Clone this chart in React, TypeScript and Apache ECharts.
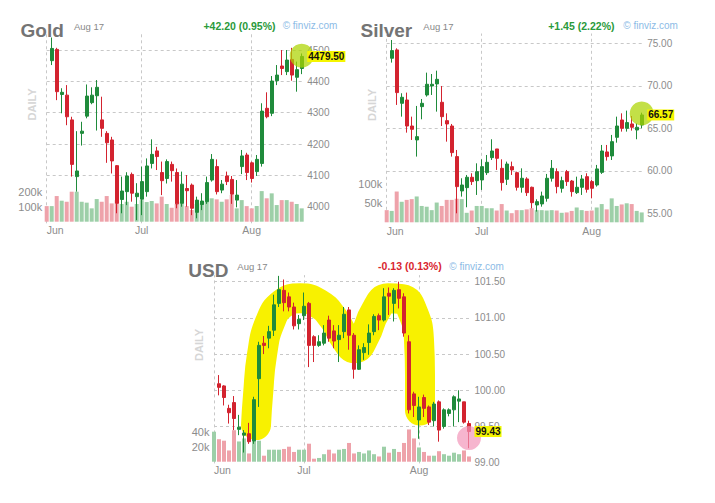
import React, { useEffect, useRef } from 'react';
import * as echarts from 'echarts';

// ---------- DATA ----------
// Candles: [open, close, low, high]; index 0 is a session whose candle is not drawn.
const NONE = ['-', '-', '-', '-'];

const GOLD_OHLC: any[] = [
  NONE,
  [4466, 4505, 4452, 4540], [4502, 4367, 4340, 4507], [4358, 4365, 4298, 4378], [4356, 4287, 4260, 4388],
  [4277, 4135, 4096, 4287], [4096, 4114, 4048, 4241], [4234, 4241, 4195, 4271], [4289, 4353, 4282, 4390],
  [4332, 4356, 4327, 4381], [4354, 4381, 4243, 4404], [4277, 4250, 4223, 4351], [4234, 4204, 4140, 4241],
  [4213, 4146, 4106, 4223], [4131, 4011, 3979, 4133], [4023, 4050, 3979, 4096], [4048, 4098, 4005, 4110],
  [4103, 4043, 4016, 4109], [4032, 4043, 3957, 4075], [4024, 4080, 3973, 4128], [4048, 4130, 4032, 4154],
  [4138, 4167, 4122, 4215], [4178, 4160, 4117, 4191], [4109, 4083, 4037, 4144], [4090, 4144, 4074, 4151],
  [4135, 4115, 4080, 4144], [4109, 4009, 3995, 4122], [4011, 4072, 4000, 4112], [4058, 4051, 4000, 4101],
  [4069, 3995, 3973, 4074], [3982, 4021, 3963, 4032], [4007, 4018, 3989, 4043], [4016, 4077, 4009, 4096],
  [4085, 4151, 4080, 4168], [4128, 4048, 4039, 4151], [4053, 4072, 4043, 4085], [4098, 4080, 4069, 4112],
  [4087, 4040, 4009, 4098], [4021, 4037, 3998, 4085], [4128, 4162, 4104, 4181], [4165, 4109, 4085, 4172],
  [4140, 4090, 4077, 4144], [4112, 4151, 4098, 4165], [4138, 4305, 4128, 4330], [4314, 4287, 4282, 4365],
  [4298, 4401, 4289, 4417], [4402, 4420, 4388, 4452], [4449, 4441, 4420, 4500], [4431, 4468, 4420, 4500],
  [4470, 4420, 4402, 4507], [4413, 4437.3, 4367, 4463], [4441, 4479.5, 4423, 4489],
];
const GOLD_VOLUME_K = [
  104, 104, 171, 140, 133, 200, 200, 133, 127, 89, 151, 133, 171, 122, 144, 118, 133, 100, 118, 144,
  131, 138, 122, 167, 118, 93, 118, 133, 104, 78, 118, 122, 133, 156, 149, 133, 149, 178, 89, 144,
  104, 89, 104, 204, 156, 189, 111, 144, 144, 133, 118, 89,
];
const GOLD_FIRST_VOL_UP = false;

const SILVER_OHLC: any[] = [
  NONE,
  [73.24, 74.14, 72.73, 75.39], [74.22, 69.2, 67.75, 74.41], [67.94, 68.65, 66.37, 69.12], [68.33, 65.27, 64.49, 69.2],
  [65.27, 64.88, 63.63, 66.37], [63.63, 64.02, 61.67, 67.63], [67.55, 67.94, 66.06, 68.45], [68.92, 70.18, 68.73, 71.55],
  [69.98, 70.18, 68.92, 71.39], [70.22, 70.76, 66.96, 71.78], [68.06, 66.37, 65.27, 69.98], [65.9, 65.51, 63.43, 66.76],
  [65.27, 62.14, 61.67, 65.51], [61.67, 58.14, 55.0, 62.45], [57.63, 58.33, 56.96, 59.12], [58.02, 59.24, 55.71, 59.51],
  [59.24, 58.73, 58.33, 59.71], [58.84, 59.9, 57.16, 60.88], [58.92, 60.49, 57.75, 61.35], [59.78, 61.0, 59.51, 61.86],
  [61.55, 62.33, 61.27, 63.71], [62.57, 61.47, 60.1, 62.57], [60.29, 58.61, 57.67, 61.35], [59.0, 60.8, 58.33, 61.08],
  [60.49, 60.1, 59.51, 61.08], [59.78, 58.06, 57.67, 59.9], [58.06, 59.12, 57.43, 60.29], [59.04, 57.43, 57.04, 59.24],
  [58.06, 56.25, 55.59, 58.14], [55.98, 56.37, 55.2, 56.65], [56.1, 57.04, 55.78, 57.55], [56.76, 59.12, 56.37, 59.63],
  [59.12, 60.29, 58.73, 61.27], [59.9, 58.14, 57.35, 60.29], [57.94, 58.84, 57.43, 59.31], [59.9, 58.73, 58.22, 60.1],
  [58.8, 57.55, 56.96, 58.92], [57.43, 58.06, 57.27, 59.31], [58.06, 59.04, 57.16, 59.51], [59.31, 57.82, 57.43, 59.71],
  [58.73, 57.94, 56.76, 58.92], [58.33, 60.22, 58.14, 60.69], [59.82, 62.33, 59.63, 63.04], [62.22, 61.67, 61.2, 63.04],
  [61.75, 63.43, 61.27, 64.22], [63.94, 65.27, 63.31, 66.37], [65.98, 65.0, 64.61, 66.76], [65.0, 65.67, 64.61, 67.08],
  [65.51, 65.12, 64.73, 66.45], [64.8, 65.12, 63.71, 65.59], [65.39, 66.57, 65.0, 66.84],
];
const SILVER_VOLUME_K = [
  32, 30, 81, 54, 59, 61, 68, 43, 41, 32, 52, 43, 59, 59, 62, 61, 25, 31, 43, 43,
  37, 37, 31, 48, 31, 24, 32, 32, 34, 37, 32, 32, 31, 32, 31, 25, 26, 30, 39, 32,
  30, 31, 39, 48, 34, 63, 43, 47, 50, 48, 30, 26,
];
const SILVER_FIRST_VOL_UP = false;

const USD_OHLC: any[] = [
  NONE,
  [100.09, 100.04, 99.93, 100.21], [100.06, 99.9, 99.79, 100.07], [99.75, 99.69, 99.54, 99.8], [99.83, 99.61, 99.45, 99.92],
  [99.46, 99.49, 99.38, 99.66], [99.38, 99.41, 99.14, 99.45], [99.4, 99.29, 99.26, 99.55], [99.3, 99.87, 99.26, 99.91],
  [100.16, 100.62, 99.77, 100.67], [100.65, 100.62, 100.5, 100.75], [100.72, 100.81, 100.58, 100.89], [100.83, 101.18, 100.75, 101.32],
  [101.2, 101.39, 101.15, 101.58], [101.38, 101.21, 101.09, 101.53], [101.29, 101.15, 101.09, 101.35], [101.15, 100.89, 100.84, 101.21],
  [100.92, 100.98, 100.84, 101.04], [101.03, 101.16, 100.97, 101.35], [101.2, 100.62, 100.32, 101.22], [100.74, 100.62, 100.39, 100.76],
  [100.62, 100.67, 100.6, 100.76], [100.65, 100.79, 100.62, 100.9], [100.97, 100.72, 100.67, 101.03], [100.82, 100.68, 100.58, 100.9],
  [100.7, 100.76, 100.39, 100.9], [100.81, 101.05, 100.72, 101.15], [101.11, 100.76, 100.56, 101.15], [100.76, 100.29, 100.16, 100.79],
  [100.29, 100.56, 100.28, 100.62], [100.52, 100.59, 100.42, 100.65], [100.66, 100.79, 100.49, 100.91], [100.81, 101.02, 100.76, 101.05],
  [101.03, 100.97, 100.83, 101.06], [100.97, 101.29, 100.95, 101.41], [101.34, 101.3, 101.04, 101.42], [101.2, 101.38, 100.95, 101.41],
  [101.39, 101.27, 101.13, 101.5], [101.29, 100.79, 100.74, 101.34], [100.67, 99.73, 99.68, 100.76], [99.95, 99.79, 99.63, 99.98],
  [99.59, 99.77, 99.33, 99.91], [99.9, 99.75, 99.63, 99.94], [99.77, 99.56, 99.52, 99.79], [99.58, 99.81, 99.5, 99.84],
  [99.84, 99.45, 99.29, 99.86], [99.5, 99.73, 99.47, 99.75], [99.68, 99.73, 99.64, 99.75], [99.73, 99.91, 99.5, 99.93],
  [99.85, 99.88, 99.56, 100.0], [99.84, 99.56, 99.54, 99.84], [99.54, 99.43, 99.2, 99.58],
];
const USD_VOLUME_K = [
  40, 30, 28, 15, 42, 27, 31, 11, 28, 28, 8, 16, 16, 16, 17, 20, 13, 16, 16, 24,
  4, 5, 10, 16, 11, 16, 17, 25, 11, 13, 11, 15, 10, 7, 20, 12, 17, 13, 25, 43,
  31, 19, 13, 8, 8, 14, 10, 8, 12, 10, 15, 7,
];
const USD_FIRST_VOL_UP = true;

// month tick positions (session index) and labels
const GOLD_MONTHS: [number, string][] = [[0, 'Jun'], [19, 'Jul'], [41, 'Aug']];
const SILVER_MONTHS: [number, string][] = [[0, 'Jun'], [19, 'Jul'], [41, 'Aug']];
const USD_MONTHS: [number, string][] = [[0, 'Jun'], [18, 'Jul'], [41, 'Aug']];

// horizontal price grid levels
const GOLD_LEVELS = [4100, 4200, 4300, 4400, 4500];
const SILVER_LEVELS = [60, 65, 70, 75];
const USD_LEVELS = [99.5, 100, 100.5, 101, 101.5];

// hand-drawn "M" highlight over the USD chart: [session index, price]
const USD_HIGHLIGHT: [number, number][] = [
  [8.4, 99.52], [8.8, 99.93], [9.6, 100.49], [11.2, 100.94], [13.8, 101.2], [17.2, 101.27],
  [20.8, 101.2], [23.8, 101.0], [26.2, 100.72], [28.2, 100.58], [30.2, 100.76], [32.2, 101.08],
  [34.8, 101.27], [37.6, 101.26], [39.8, 101.07], [41.0, 100.69], [41.2, 100.21], [41.2, 99.72],
];

const DATE_LABEL = 'Aug 17';

// ---------- STYLE ----------
const FONT = '"Liberation Sans", Arial, Helvetica, sans-serif';
const UP = '#1f8b3b';
const DOWN = '#d3232f';
const VOL_UP = '#9dcfa8';
const VOL_DOWN = '#eea2aa';
const GRIDLINE = '#c8c8c8';
const AXIS_TEXT = '#8c8c8c';

type Panel = {
  title: string;
  change: string;
  changeColor: string;
  ohlc: any[];
  vol: number[];
  firstUp: boolean;
  months: [number, string][];
  levels: number[];
  yMin: number; yMax: number; yStep: number;
  vTop: number; vBottom: number;
  decimals: number;
  volMax: number; volStep: number;
  lastText: string;
  markerPrice: number;
  markerColor: string;
  highlight?: [number, number][];
  L: { left: number; top: number; height: number; volTop: number; volHeight: number;
       titleX: number; titleY: number; dateX: number; dateY: number; changeRight: number;
       finvizX: number; hdrY: number; dailyX: number; dailyY: number };
};

const PANELS: Panel[] = [
  {
    title: 'Gold', change: '+42.20 (0.95%)', changeColor: '#2a9a3b',
    ohlc: GOLD_OHLC, vol: GOLD_VOLUME_K, firstUp: GOLD_FIRST_VOL_UP, months: GOLD_MONTHS, levels: GOLD_LEVELS,
    yMin: 3900, yMax: 4600, yStep: 100, vTop: 4553, vBottom: 3947, decimals: 0, volMax: 300, volStep: 100,
    lastText: '4479.50', markerPrice: 4482, markerColor: 'rgba(172,212,0,0.72)',
    L: { left: 44.2, top: 18.67, height: 219.36, volTop: 176.7, volHeight: 45,
         titleX: 20.5, titleY: 30.5, dateX: 74, dateY: 26.5, changeRight: 275.5, finvizX: 282.7, hdrY: 25.8,
         dailyX: 31.7, dailyY: 104.5 },
  },
  {
    title: 'Silver', change: '+1.45 (2.22%)', changeColor: '#2a9a3b',
    ohlc: SILVER_OHLC, vol: SILVER_VOLUME_K, firstUp: SILVER_FIRST_VOL_UP, months: SILVER_MONTHS, levels: SILVER_LEVELS,
    yMin: 50, yMax: 80, yStep: 5, vTop: 76.15, vBottom: 54.0, decimals: 2, volMax: 150, volStep: 50,
    lastText: '66.57', markerPrice: 66.75, markerColor: 'rgba(172,212,0,0.72)',
    L: { left: 384.2, top: 0.8, height: 255, volTop: 165.3, volHeight: 57,
         titleX: 360.5, titleY: 30.8, dateX: 423.3, dateY: 26, changeRight: 614.5, finvizX: 623.3, hdrY: 25.8,
         dailyX: 371.7, dailyY: 105 },
  },
  {
    title: 'USD', change: '-0.13 (0.13%)', changeColor: '#d9262f',
    ohlc: USD_OHLC, vol: USD_VOLUME_K, firstUp: USD_FIRST_VOL_UP, months: USD_MONTHS, levels: USD_LEVELS,
    yMin: 98.5, yMax: 102, yStep: 0.5, vTop: 101.59, vBottom: 98.99, decimals: 2, volMax: 60, volStep: 20,
    lastText: '99.43', markerPrice: 99.34, markerColor: 'rgba(242,150,185,0.7)',
    highlight: USD_HIGHLIGHT,
    L: { left: 211.5, top: 245.47, height: 253.4, volTop: 416.7, volHeight: 45,
         titleX: 188.3, titleY: 270.2, dateX: 237.3, dateY: 266, changeRight: 441.7, finvizX: 449.3, hdrY: 266,
         dailyX: 199, dailyY: 345 },
  },
];

const BAND = 5;

function buildOption() {
  const grid: any[] = [];
  const xAxis: any[] = [];
  const yAxis: any[] = [];
  const series: any[] = [];
  const graphic: any[] = [];

  PANELS.forEach((p) => {
    const n = p.ohlc.length;
    const width = n * BAND;
    const cats = p.ohlc.map((_, i) => 'S' + i);
    const monthAt = new Map(p.months.map(([i, m]) => [i, m]));

    const gPrice = grid.length;
    grid.push({ left: p.L.left, width, top: p.L.top, height: p.L.height });
    const gVol = grid.length;
    grid.push({ left: p.L.left, width, top: p.L.volTop, height: p.L.volHeight });

    const xPrice = xAxis.length;
    xAxis.push({ type: 'category', gridIndex: gPrice, data: cats, boundaryGap: true, show: false });
    const xVol = xAxis.length;
    xAxis.push({
      type: 'category', gridIndex: gVol, boundaryGap: true,
      data: cats.map((c, i) => (i === 0 ? { value: c, textStyle: { align: 'left' } } : c)),
      axisLine: { show: false }, axisTick: { show: false }, splitLine: { show: false },
      axisLabel: {
        interval: (i: number) => monthAt.has(i),
        formatter: (_v: string, i: number) => monthAt.get(i) || '',
        color: AXIS_TEXT, fontSize: 10.5, margin: 3, fontFamily: FONT,
      },
    });
    const xVal = xAxis.length;
    xAxis.push({ type: 'value', gridIndex: gPrice, min: -0.5, max: n - 0.5, show: false });

    const yPrice = yAxis.length;
    yAxis.push({
      type: 'value', gridIndex: gPrice, position: 'right', min: p.yMin, max: p.yMax, interval: p.yStep,
      axisLine: { show: false }, axisTick: { show: false }, splitLine: { show: false },
      axisLabel: {
        showMinLabel: false, showMaxLabel: false, margin: 3, color: AXIS_TEXT, fontSize: 10, fontFamily: FONT,
        formatter: (v: number) => v.toFixed(p.decimals),
      },
    });
    const yVol = yAxis.length;
    yAxis.push({
      type: 'value', gridIndex: gVol, position: 'left', min: 0, max: p.volMax, interval: p.volStep,
      axisLine: { show: false }, axisTick: { show: false }, splitLine: { show: false },
      axisLabel: {
        showMinLabel: false, showMaxLabel: false, margin: 2, color: AXIS_TEXT, fontSize: 11, fontFamily: FONT,
        formatter: (v: number) => v + 'k',
      },
    });

    const last = n - 1;
    const lineStyle = { color: GRIDLINE, type: [3, 3], width: 1 };
    const gridLines: any[] = [];
    p.levels.forEach((lv) => gridLines.push([{ coord: [0, lv] }, { coord: [last, lv] }]));
    p.months.forEach(([i]) => gridLines.push([{ coord: [i, p.vBottom] }, { coord: [i, p.vTop] }]));

    // dashed grid (under everything)
    series.push({
      type: 'line', xAxisIndex: xPrice, yAxisIndex: yPrice, data: [], z: 0, silent: true,
      markLine: { silent: true, z: 0, symbol: ['none', 'none'], label: { show: false }, lineStyle, data: gridLines },
    });

    if (p.highlight) {
      series.push({
        type: 'line', xAxisIndex: xVal, yAxisIndex: yPrice, data: p.highlight, smooth: 0.5, symbol: 'none',
        silent: true, z: 1, clip: false,
        lineStyle: { width: 30, color: '#f8f100', cap: 'round', join: 'round' },
      });
    }

    series.push({
      type: 'bar', xAxisIndex: xVol, yAxisIndex: yVol, barWidth: 4, z: 1, silent: true,
      data: p.vol.map((v, i) => {
        const c = p.ohlc[i];
        const up = i === 0 ? p.firstUp : c[1] >= c[0];
        return { value: v, itemStyle: { color: up ? VOL_UP : VOL_DOWN } };
      }),
    });

    series.push({
      type: 'candlestick', xAxisIndex: xPrice, yAxisIndex: yPrice, data: p.ohlc, barWidth: 3.2, z: 3, silent: true,
      itemStyle: { color: UP, color0: DOWN, borderColor: UP, borderColor0: DOWN, borderWidth: 1 },
      markPoint: {
        silent: true, z: 4, symbol: 'circle', symbolSize: 24, label: { show: false },
        itemStyle: { color: p.markerColor },
        data: [{ coord: [last, p.markerPrice] }],
      },
      markLine: {
        silent: true, z: 6, symbol: ['none', 'none'],
        data: [{
          yAxis: p.ohlc[last][1],
          lineStyle: { color: 'rgba(255,255,255,0)', width: 0 },
          label: {
            show: true, position: 'end', distance: 3, formatter: p.lastText, color: '#111', fontSize: 10,
            fontWeight: 'bold', fontFamily: FONT, backgroundColor: '#f5f500', padding: [1, 1, 0, 1], opacity: 1,
          },
        }],
      },
    });

    // header texts
    graphic.push(
      { type: 'text', x: p.L.titleX, y: p.L.titleY, silent: true,
        style: { text: p.title, font: `bold 19px ${FONT}`, fill: '#747474', align: 'left', verticalAlign: 'middle', textAlign: 'left', textVerticalAlign: 'middle' } },
      { type: 'text', x: p.L.dateX, y: p.L.dateY, silent: true,
        style: { text: DATE_LABEL, font: `9.5px ${FONT}`, fill: '#888', align: 'left', verticalAlign: 'middle', textAlign: 'left', textVerticalAlign: 'middle' } },
      { type: 'text', x: p.L.changeRight, y: p.L.hdrY, silent: true,
        style: { text: p.change, font: `bold 10.5px ${FONT}`, fill: p.changeColor, align: 'right', verticalAlign: 'middle', textAlign: 'right', textVerticalAlign: 'middle' } },
      { type: 'text', x: p.L.finvizX, y: p.L.hdrY, silent: true,
        style: { text: '© finviz.com', font: `10px ${FONT}`, fill: '#8cbbe6', align: 'left', verticalAlign: 'middle', textAlign: 'left', textVerticalAlign: 'middle' } },
      { type: 'text', x: p.L.dailyX, y: p.L.dailyY, rotation: Math.PI / 2, silent: true,
        style: { text: 'DAILY', font: `bold 11px ${FONT}`, fill: '#d6d6d6', align: 'center', verticalAlign: 'middle', textAlign: 'center', textVerticalAlign: 'middle' } },
    );
  });

  return {
    animation: false,
    backgroundColor: '#ffffff',
    textStyle: { fontFamily: FONT },
    grid, xAxis, yAxis, series, graphic,
  };
}

export default function App() {
  const ref = useRef<HTMLDivElement>(null);
  useEffect(() => {
    if (!ref.current) return;
    const chart = echarts.init(ref.current, undefined, { renderer: 'svg' });
    chart.setOption(buildOption() as any);
    return () => chart.dispose();
  }, []);
  return (
    <div
      ref={ref}
      style={{ position: 'absolute', left: 0, top: 0, width: 715, height: 503, background: '#fff' }}
    />
  );
}
